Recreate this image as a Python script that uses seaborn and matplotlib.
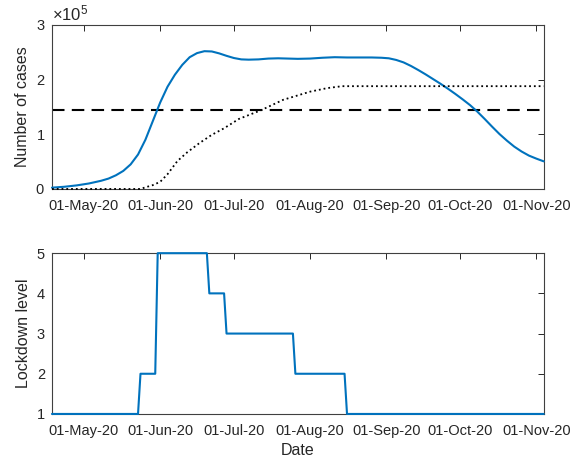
import pandas as pd
import seaborn as sns
import matplotlib
matplotlib.use("Agg")
import matplotlib.pyplot as plt
import matplotlib.dates as mdates
from matplotlib.ticker import ScalarFormatter

# data
start_date = "2020-04-18"
end_date = "2020-11-04"

case_days = [0, 5, 10, 15, 20, 23, 26, 29, 32, 35, 38, 41, 44, 47, 50, 53, 56,
             59, 62, 65, 68, 71, 74, 77, 80, 84, 88, 92, 96, 100, 105, 110, 115,
             120, 125, 130, 134, 137, 140, 143, 146, 149, 152, 155, 158, 161,
             164, 167, 170, 173, 176, 179, 182, 185, 188, 191, 194, 197, 200]
cases = [2400, 4000, 6500, 10000, 15000, 19000, 25000, 33000, 45000, 63000,
         90000, 124000, 158000, 187000, 209000, 227000, 241000, 248500, 252000,
         251500, 248000, 243500, 239500, 237000, 236500, 237000, 238500, 239000,
         238500, 238000, 238500, 240000, 241000, 240500, 240500, 240500, 240000,
         239000, 236000, 231500, 225000, 217500, 209500, 201000, 192500, 183500,
         174000, 164000, 153500, 141500, 128000, 114000, 100500, 88500, 77500,
         68500, 61000, 55500, 50500]

capacity_days = [0, 36, 38, 41, 44, 47, 51, 55, 60, 65, 70, 76, 85, 94, 105,
                 112, 118, 200]
capacity = [0, 0, 3000, 7000, 13000, 27000, 51000, 67000, 84000, 99000, 111000,
            128000, 144000, 163000, 178000, 184500, 188000, 188000]

threshold = 144000

lockdown_dates = ["2020-04-18", "2020-05-23", "2020-05-24", "2020-05-30",
                  "2020-05-31", "2020-06-20", "2020-06-21", "2020-06-27",
                  "2020-06-28", "2020-07-25", "2020-07-26", "2020-08-15",
                  "2020-08-16", "2020-11-04"]
lockdown_level = [1, 1, 2, 2, 5, 5, 4, 4, 3, 3, 2, 2, 1, 1]

sns.set_theme(style="white")
plt.rcParams["font.family"] = ["Liberation Sans", "DejaVu Sans"]
plt.rcParams["mathtext.fontset"] = "custom"
plt.rcParams["mathtext.rm"] = "Liberation Sans"
plt.rcParams["mathtext.it"] = "Liberation Sans"

t0 = pd.Timestamp(start_date)
df_cases = pd.DataFrame({"date": t0 + pd.to_timedelta(case_days, unit="D"),
                         "cases": cases})
df_cap = pd.DataFrame({"date": t0 + pd.to_timedelta(capacity_days, unit="D"),
                       "capacity": capacity})
df_lock = pd.DataFrame({"date": pd.to_datetime(lockdown_dates),
                        "level": lockdown_level})

blue = "#0072BD"
axis_col = "#262626"

fig = plt.figure(figsize=(5.84, 4.62), dpi=100)
ax1 = fig.add_axes([0.089, 0.591, 0.842, 0.355])
ax2 = fig.add_axes([0.089, 0.104, 0.842, 0.348])

sns.lineplot(data=df_cases, x="date", y="cases", ax=ax1, color=blue, lw=1.5,
             zorder=3, clip_on=False)
sns.lineplot(data=df_cap, x="date", y="capacity", ax=ax1, color="black",
             lw=1.3, linestyle=":", zorder=3, clip_on=False)
ax1.axhline(threshold, color="black", lw=1.5, dashes=(6, 3.5))
ax1.set_ylim(0, 300000)
ax1.set_yticks([0, 100000, 200000, 300000])
fmt = ScalarFormatter(useMathText=True)
fmt.set_powerlimits((0, 0))
ax1.yaxis.set_major_formatter(fmt)
ax1.yaxis.get_offset_text().set_fontsize(12)
ax1.yaxis.get_offset_text().set_color(axis_col)
ax1.set_ylabel("Number of cases", fontsize=11.5, color=axis_col)
ax1.set_xlabel("")

sns.lineplot(data=df_lock, x="date", y="level", ax=ax2, color=blue, lw=1.5,
             zorder=3, clip_on=False)
ax2.set_ylim(1, 5)
ax2.set_yticks([1, 2, 3, 4, 5])
ax2.set_ylabel("Lockdown level", fontsize=11.5, color=axis_col)
ax2.set_xlabel("Date", fontsize=11.5, color=axis_col)

month_ticks = pd.date_range("2020-05-01", "2020-11-01", freq="MS")
for ax in (ax1, ax2):
    ax.set_xlim(pd.Timestamp(start_date), pd.Timestamp(end_date))
    ax.set_xticks(month_ticks)
    ax.xaxis.set_major_formatter(mdates.DateFormatter("%d-%b-%y"))
    ax.tick_params(direction="in", length=4, width=0.7, colors=axis_col,
                   labelsize=10.5, top=True, right=True, pad=5)
    ax.tick_params(axis="x", pad=7)
    for s in ax.spines.values():
        s.set_color("#404040")
        s.set_linewidth(0.8)
    ax.grid(False)

fig.savefig("out.png", dpi=100)
